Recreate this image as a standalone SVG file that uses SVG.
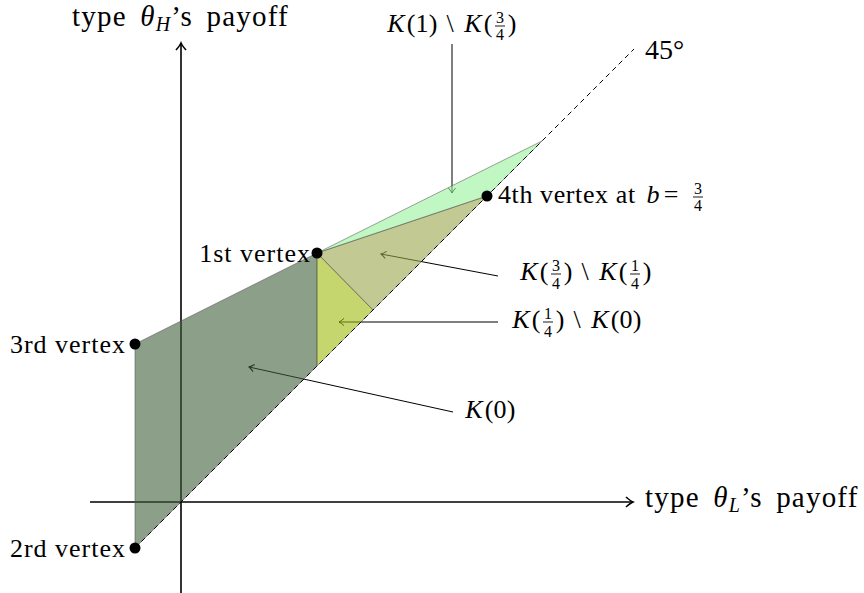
<svg xmlns="http://www.w3.org/2000/svg" width="864" height="593" viewBox="0 0 864 593">
<defs>
<style>
text{font-family:'Liberation Serif','DejaVu Serif',serif;font-size:26px;fill:#000}
.m{text-anchor:middle}
.it{font-style:italic}
.sm{font-size:16px}
.vl{letter-spacing:1px}
.axl{font-size:29px;letter-spacing:1.2px;word-spacing:5px}
.ax{stroke:#000;stroke-width:1.6;fill:none}
.cn{stroke:#000;stroke-width:1;fill:none}
.edge{stroke:#555;stroke-opacity:0.55;stroke-width:1;stroke-linejoin:round}
.bar{stroke:#000;stroke-width:0.9}
.dot{fill:#000}
</style>
<marker id="to" viewBox="-7 -6 9 12" markerWidth="9" markerHeight="12" refX="0" refY="0" orient="auto" markerUnits="userSpaceOnUse">
<path d="M-5,-3.6 Q-1.8,-0.8 0,0 Q-1.8,0.8 -5,3.6" fill="none" stroke="#000" stroke-width="1"/>
</marker>
<marker id="toAx" viewBox="-9 -7 11 14" markerWidth="11" markerHeight="14" refX="0" refY="0" orient="auto" markerUnits="userSpaceOnUse">
<path d="M-7,-5 Q-2.5,-1 0,0 Q-2.5,1 -7,5" fill="none" stroke="#000" stroke-width="1.6"/>
</marker>
</defs>
<rect width="864" height="593" fill="#fff"/>

<g id="axes">
<line class="ax" x1="90" y1="502" x2="633" y2="502" marker-end="url(#toAx)"/>
<line class="ax" x1="181" y1="593" x2="181" y2="43" marker-end="url(#toAx)"/>
</g>

<g id="connectors">
<line class="cn" x1="452" y1="44" x2="452" y2="193" marker-end="url(#to)"/>
<line class="cn" x1="498" y1="276" x2="381" y2="254" marker-end="url(#to)"/>
<line class="cn" x1="498" y1="322" x2="339" y2="322" marker-end="url(#to)"/>
<line class="cn" x1="453" y1="412" x2="249" y2="367" marker-end="url(#to)"/>
</g>

<g id="region-K0">
<polygon class="edge" points="135,548 135,344 317,253 317,366" fill="rgb(62,95,58)" fill-opacity="0.6"/>
</g>
<g id="region-K14">
<polygon class="edge" points="317,253 317,366 373,310" fill="rgb(158,187,13)" fill-opacity="0.6"/>
</g>
<g id="region-K34">
<polygon class="edge" points="317,253 373,310 487,196" fill="rgb(153,165,73)" fill-opacity="0.6"/>
</g>
<g id="region-K1">
<polygon class="edge" points="317,253 487,196 542,141" fill="rgb(150,242,155)" fill-opacity="0.6"/>
</g>

<g id="diagonal">
<line x1="135" y1="548" x2="634" y2="49" stroke="#000" stroke-width="1" stroke-dasharray="5 4"/>
<text x="645" y="59" style="font-size:28px">45°</text>
</g>

<g id="vertex1">
<circle class="dot" cx="317" cy="253" r="5.5"/>
<text class="vl" x="311" y="262" text-anchor="end">1st vertex</text>
</g>
<g id="vertex2">
<circle class="dot" cx="135" cy="548" r="5.5"/>
<text class="vl" x="126" y="557" text-anchor="end">2rd vertex</text>
</g>
<g id="vertex3">
<circle class="dot" cx="135" cy="344" r="5.5"/>
<text class="vl" x="126" y="353" text-anchor="end">3rd vertex</text>
</g>
<g id="vertex4">
<circle class="dot" cx="487" cy="196" r="5.5"/>
<text x="498" y="203" style="letter-spacing:0.6px">4th vertex at</text>
<text class="m it" x="653" y="203">b</text>
<text class="m" x="671" y="203">=</text>
<text class="m sm" x="698" y="194">3</text>
<line class="bar" x1="693" y1="197" x2="703" y2="197"/>
<text class="m sm" x="698" y="211">4</text>
</g>

<g id="label-K1-K34">
<text class="m"><tspan class="it" x="396" y="32">K</tspan><tspan x="411" y="32">(</tspan><tspan x="422" y="32">1</tspan><tspan x="433" y="32">)</tspan><tspan x="450" y="32">\</tspan><tspan class="it" x="473" y="32">K</tspan><tspan x="488" y="32">(</tspan><tspan x="512" y="32">)</tspan></text>
<text class="m sm" x="500" y="23">3</text>
<line class="bar" x1="495" y1="26" x2="505" y2="26"/>
<text class="m sm" x="500" y="40">4</text>
</g>

<g id="label-K34-K14">
<text class="m"><tspan class="it" x="529" y="280">K</tspan><tspan x="544" y="280">(</tspan><tspan x="568" y="280">)</tspan><tspan x="585" y="280">\</tspan><tspan class="it" x="608" y="280">K</tspan><tspan x="623" y="280">(</tspan><tspan x="647" y="280">)</tspan></text>
<text class="m sm" x="556" y="271">3</text>
<line class="bar" x1="551" y1="274" x2="561" y2="274"/>
<text class="m sm" x="556" y="289">4</text>
<text class="m sm" x="635" y="271">1</text>
<line class="bar" x1="630" y1="274" x2="640" y2="274"/>
<text class="m sm" x="635" y="289">4</text>
</g>

<g id="label-K14-K0">
<text class="m"><tspan class="it" x="521" y="328">K</tspan><tspan x="536" y="328">(</tspan><tspan x="560" y="328">)</tspan><tspan x="577" y="328">\</tspan><tspan class="it" x="600" y="328">K</tspan><tspan x="615" y="328">(</tspan><tspan x="626" y="328">0</tspan><tspan x="637" y="328">)</tspan></text>
<text class="m sm" x="548" y="319">1</text>
<line class="bar" x1="543" y1="322" x2="553" y2="322"/>
<text class="m sm" x="548" y="337">4</text>
</g>

<g id="label-K0">
<text class="m"><tspan class="it" x="474" y="418">K</tspan><tspan x="489" y="418">(</tspan><tspan x="500" y="418">0</tspan><tspan x="511" y="418">)</tspan></text>
</g>

<g id="axis-labels">
<text class="axl" x="72" y="26">type <tspan class="it">θ</tspan><tspan class="it" style="font-size:20px" dy="5">H</tspan><tspan dy="-5">’s payoff</tspan></text>
<text class="axl" x="645" y="507">type <tspan class="it">θ</tspan><tspan class="it" style="font-size:20px" dy="5">L</tspan><tspan dy="-5">’s payoff</tspan></text>
</g>
</svg>
